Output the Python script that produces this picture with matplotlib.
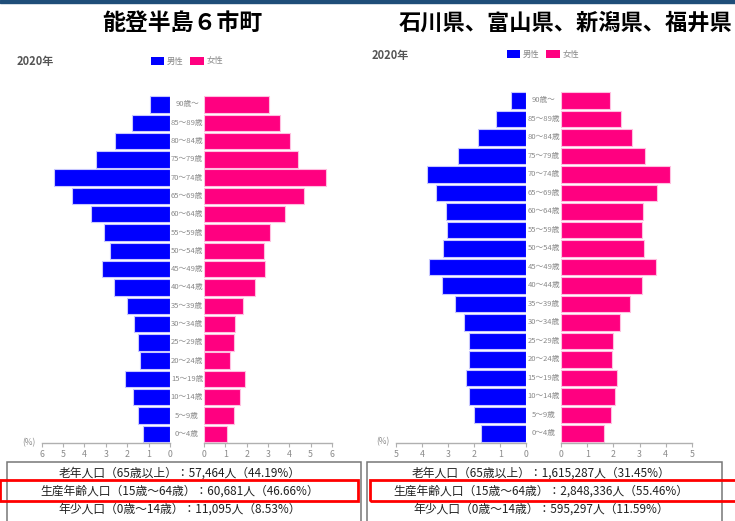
import numpy as np
import matplotlib.pyplot as plt
from matplotlib.patches import Patch, Rectangle
from matplotlib.transforms import blended_transform_factory

plt.rcParams['font.family'] = ['Noto Sans CJK JP', 'DejaVu Sans']

# age groups, bottom to top
ages = ['0～4歳', '5～9歳', '10～14歳', '15～19歳', '20～24歳', '25～29歳',
        '30～34歳', '35～39歳', '40～44歳', '45～49歳', '50～54歳', '55～59歳',
        '60～64歳', '65～69歳', '70～74歳', '75～79歳', '80～84歳', '85～89歳',
        '90歳～']

# 能登半島6市町 (%)
noto_male = [1.25, 1.48, 1.73, 2.12, 1.40, 1.51, 1.68, 1.99, 2.63, 3.16,
             2.79, 3.07, 3.71, 4.56, 5.41, 3.47, 2.57, 1.76, 0.93]
noto_female = [1.07, 1.40, 1.67, 1.92, 1.23, 1.40, 1.43, 1.82, 2.37, 2.87,
               2.79, 3.08, 3.82, 4.69, 5.72, 4.39, 4.05, 3.58, 3.04]

# 石川県、富山県、新潟県、福井県 (%)
four_male = [1.75, 2.02, 2.18, 2.32, 2.21, 2.18, 2.40, 2.72, 3.24, 3.74,
             3.20, 3.04, 3.08, 3.45, 3.82, 2.61, 1.86, 1.17, 0.60]
four_female = [1.64, 1.90, 2.07, 2.15, 1.95, 1.99, 2.26, 2.62, 3.09, 3.62,
               3.17, 3.08, 3.14, 3.66, 4.15, 3.20, 2.72, 2.28, 1.85]

noto_text = ['老年人口（65歳以上）：57,464人（44.19%）',
             '生産年齢人口（15歳～64歳）：60,681人（46.66%）',
             '年少人口（0歳～14歳）：11,095人（8.53%）']
four_text = ['老年人口（65歳以上）：1,615,287人（31.45%）',
             '生産年齢人口（15歳～64歳）：2,848,336人（55.46%）',
             '年少人口（0歳～14歳）：595,297人（11.59%）']

W, H = 735, 521
BLUE = '#0000ff'
PINK = '#ff0080'
GRAY = '#8a8a8a'

fig = plt.figure(figsize=(W / 100, H / 100), dpi=100)


def px_axes(x0, x1, ytop, ybot):
    return fig.add_axes([x0 / W, 1 - ybot / H, (x1 - x0) / W, (ybot - ytop) / H])


def style(ax, xmax):
    for s in ['top', 'left', 'right']:
        ax.spines[s].set_visible(False)
    ax.spines['bottom'].set_color('#b0b0b0')
    ax.spines['bottom'].set_linewidth(1)
    ax.set_yticks([])
    ax.set_xticks(range(0, xmax + 1))
    ax.tick_params(axis='x', length=3, color='#b0b0b0', labelsize=6.3,
                   labelcolor=GRAY, pad=2)
    ax.set_ylim(-0.5, len(ages) - 0.5)
    ax.patch.set_alpha(0)


def pyramid(male, female, xm0, xm1, xf0, xf1, ytop, ybot, xmax):
    y = np.arange(len(ages))
    axm = px_axes(xm0, xm1, ytop, ybot)
    axf = px_axes(xf0, xf1, ytop, ybot)
    axm.barh(y, male, height=0.9, color=BLUE, edgecolor='#c8c8ff', linewidth=0.8)
    axf.barh(y, female, height=0.9, color=PINK, edgecolor='#ffc0e0', linewidth=0.8)
    style(axm, xmax)
    style(axf, xmax)
    axm.set_xlim(xmax, 0)
    axf.set_xlim(0, xmax)
    # age labels in the gap between the two halves
    tr = blended_transform_factory(fig.transFigure, axm.transData)
    xc = ((xm1 + xf0) / 2) / W
    for i, a in enumerate(ages):
        axm.text(xc, i, a, transform=tr, ha='center', va='center',
                 fontsize=5.5, color=GRAY)


pyramid(noto_male, noto_female, 41.7, 170, 204, 332, 95.3, 443, 6)
pyramid(four_male, four_female, 395.7, 526.3, 561.3, 691.7, 91.2, 442.7, 5)

# top band
fig.patches.append(Rectangle((0, 1 - 2.5 / H), 1, 2.5 / H, transform=fig.transFigure,
                             color='#1f4e79', zorder=5))

# titles
fig.text(182 / W, 1 - 23 / H, '能登半島６市町', ha='center', va='center',
         fontsize=16.5, fontweight='bold')
fig.text(566 / W, 1 - 23 / H, '石川県、富山県、新潟県、福井県', ha='center',
         va='center', fontsize=16, fontweight='bold')

fig.text(17 / W, 1 - 62 / H, '2020年', ha='left', va='center', fontsize=8,
         fontweight='bold', color='#555555')
fig.text(372 / W, 1 - 55 / H, '2020年', ha='left', va='center', fontsize=8,
         fontweight='bold', color='#555555')

fig.text(22 / W, 1 - 443 / H, '(%)', ha='left', va='center', fontsize=6, color=GRAY)
fig.text(376 / W, 1 - 442 / H, '(%)', ha='left', va='center', fontsize=6, color=GRAY)

# legends
handles = [Patch(facecolor=BLUE, label='男性'), Patch(facecolor=PINK, label='女性')]
for cx, cy in [(187, 61), (543, 54)]:
    fig.legend(handles=handles, loc='center', bbox_to_anchor=(cx / W, 1 - cy / H),
               ncol=2, frameon=False, fontsize=6, handlelength=1.6,
               handleheight=1.1, handletextpad=0.3, columnspacing=0.8,
               labelcolor=GRAY)

# summary boxes (open at the bottom edge of the picture)
for x0, x1 in [(6.7, 360.7), (366.7, 721.7)]:
    fig.patches.append(Rectangle((x0 / W, -0.01), (x1 - x0) / W, (H - 462) / H + 0.01,
                                 transform=fig.transFigure, fill=False,
                                 edgecolor='#777777', linewidth=1.1))

# red highlight on the working-age line
for x0, x1 in [(0, 358.3), (370, 740)]:
    fig.patches.append(Rectangle((x0 / W, 1 - 501 / H), (x1 - x0) / W, 21 / H,
                                 transform=fig.transFigure, fill=False,
                                 edgecolor='#ff0000', linewidth=2, zorder=6))

for cx, lines in [(180, noto_text), (541, four_text)]:
    for yy, t in zip([473.5, 491.5, 509], lines):
        fig.text(cx / W, 1 - yy / H, t, ha='center', va='center', fontsize=8.5,
                 color='#222222')

fig.savefig('out.png', dpi=100)
